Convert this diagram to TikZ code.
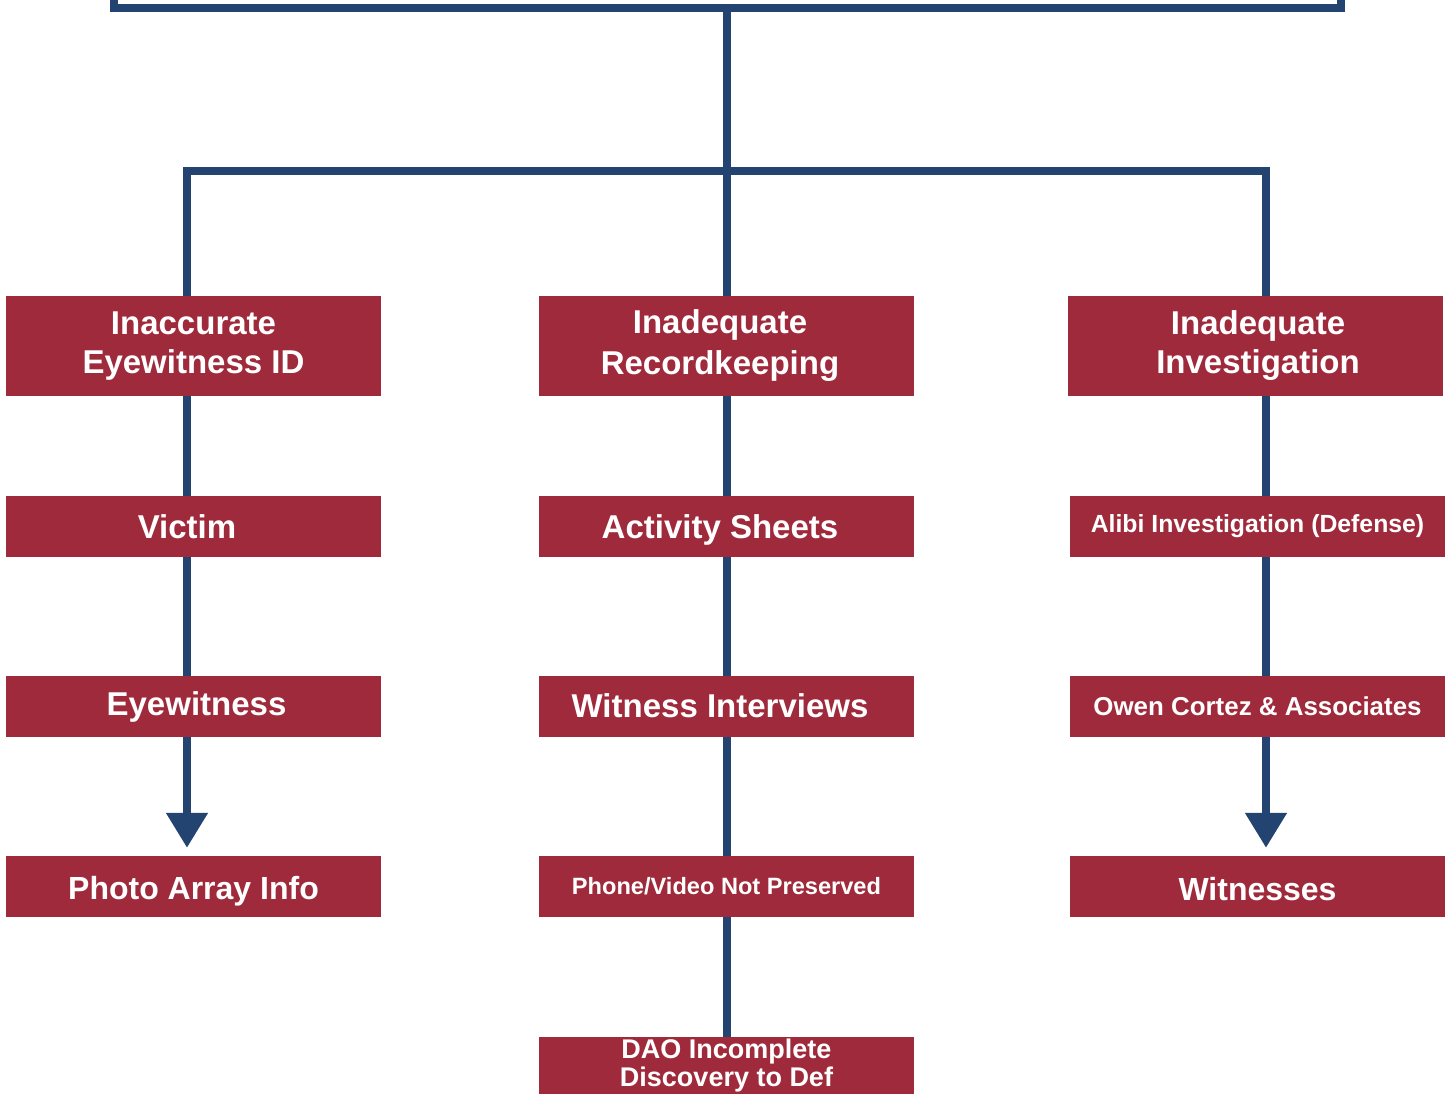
\documentclass[tikz,border=0pt]{standalone}
\usepackage{fontspec}
\setmainfont{Liberation Sans}
\usetikzlibrary{arrows.meta}
\definecolor{boxred}{RGB}{159,42,59}
\definecolor{linkblue}{RGB}{35,67,112}
\newcommand{\lowertext}[2]{\raisebox{#1}[\height][\depth]{#2}}
\begin{document}
\begin{tikzpicture}[x=1pt,y=-1pt,
  cbox/.style={fill=boxred,text=white,inner sep=0pt,minimum width=375pt,align=center},
  tall/.style={cbox,minimum height=100pt},
  short/.style={cbox,minimum height=61pt},
  fs/.style={font=\bfseries\fontsize{#1}{39}\selectfont},
  conn/.style={draw=linkblue,line width=8pt},
  arr/.style={conn,-{Triangle[width=40pt,length=35pt]}}]
\useasboundingbox (0,0) rectangle (1451,1095);
\clip (0,0) rectangle (1451,1095);
\coordinate (x1) at (187,0);
\coordinate (x2) at (727,0);
\coordinate (x3) at (1266,0);
\coordinate (yb) at (0,171);
% top box (cut off by the frame)
\node[draw=linkblue,line width=8pt,minimum width=1227pt,minimum height=200pt,inner sep=0pt] (top) at (727.5,-92) {};
% column 1
\node[tall,fs=33] (ina) at (193.5,346) {Inaccurate\\Eyewitness ID};
\node[short,fs=33] (vic) at (193.5,526.5) {Victim\kern13pt};
\node[short,fs=33] (eye) at (193.5,706.5) {\kern6ptEyewitness};
\node[short,fs=32] (pho) at (193.5,886.5) {\lowertext{-5pt}{Photo Array Info}};
% column 2
\node[tall,font=\bfseries\fontsize{33}{41}\selectfont] (rec) at (726.5,346) {Inadequate\kern13pt\\Recordkeeping\kern13pt};
\node[short,fs=33] (act) at (726.5,526.5) {\lowertext{-3pt}{Activity Sheets}\kern13pt};
\node[short,fs=33] (wit) at (726.5,706.5) {\lowertext{1pt}{Witness Interviews}\kern13pt};
\node[short,fs=23.6] (pv) at (726.5,886.5) {Phone/Video Not Preserved};
\node[cbox,minimum height=57pt,font=\bfseries\fontsize{27}{28}\selectfont] (dao) at (726.5,1065.5) {DAO Incomplete\\Discovery to Def};
% column 3
\node[tall,fs=33] (inv) at (1255.5,346) {\kern5ptInadequate\\\kern5ptInvestigation};
\node[short,fs=24.8] (ali) at (1257.5,526.5) {Alibi Investigation (Defense)};
\node[short,fs=25.9] (owe) at (1257.5,706.5) {Owen Cortez \& Associates};
\node[short,fs=32] (wts) at (1257.5,886.5) {\lowertext{-3pt}{Witnesses}};
% connectors
\draw[conn] (top.south -| x2) -- (rec.north -| x2);
\draw[conn] (ina.north -| x1) |- (yb -| x2) -| (inv.north -| x3);
\draw[conn] (ina.south -| x1) -- (vic.north -| x1);
\draw[conn] (vic.south -| x1) -- (eye.north -| x1);
\draw[arr] (eye.south -| x1) -- ([yshift=8pt]pho.north -| x1);
\draw[conn] (rec.south -| x2) -- (act.north -| x2);
\draw[conn] (act.south -| x2) -- (wit.north -| x2);
\draw[conn] (wit.south -| x2) -- (pv.north -| x2);
\draw[conn] (pv.south -| x2) -- (dao.north -| x2);
\draw[conn] (inv.south -| x3) -- (ali.north -| x3);
\draw[conn] (ali.south -| x3) -- (owe.north -| x3);
\draw[arr] (owe.south -| x3) -- ([yshift=8pt]wts.north -| x3);
\end{tikzpicture}
\end{document}
